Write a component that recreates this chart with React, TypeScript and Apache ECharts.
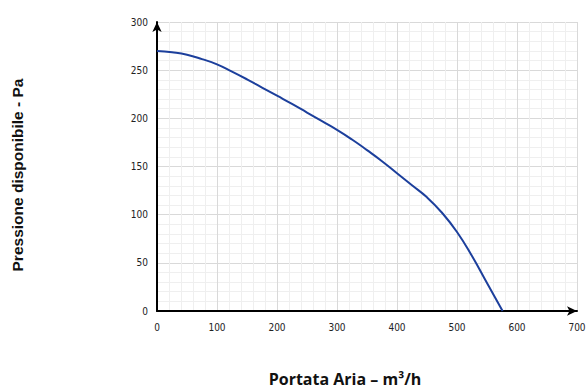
import React, { useEffect, useRef } from "react";
import * as echarts from "echarts";

const flowValues = [0, 25, 50, 75, 100, 125, 150, 175, 200, 225, 250, 275, 300, 325, 350, 375, 400, 425, 450, 475, 500, 525, 550, 576];
const pressureValues = [270, 268.5, 266, 261.5, 256, 248.5, 240.5, 232, 223.5, 215, 206, 197, 188, 178, 167, 155.5, 143, 130.5, 118, 102, 82, 57, 29, 0];

const xTitle = "Portata Aria – m³/h";
const yTitle = "Pressione disponibile - Pa";

export default function App() {
  const ref = useRef<HTMLDivElement>(null);
  useEffect(() => {
    const chart = echarts.init(ref.current!, undefined, { renderer: "svg" });
    const labelStyle = { color: "#222", fontSize: 10, fontFamily: "DejaVu Sans Condensed, DejaVu Sans, sans-serif" };
    const axisLine = { show: true, lineStyle: { color: "#000", width: 2 }, symbol: ["none", "arrow"], symbolSize: [7, 10] };
    chart.setOption({
      animation: false,
      grid: { left: 157, right: 10, top: 22, bottom: 78, outerBoundsMode: "none", containLabel: false },
      xAxis: {
        type: "value",
        min: 0,
        max: 700,
        interval: 100,
        axisLine,
        axisTick: { show: false },
        axisLabel: { ...labelStyle, margin: 11 },
        splitLine: { show: true, lineStyle: { color: "#d9d9d9", width: 1 } },
        minorTick: { show: false, splitNumber: 5 },
        minorSplitLine: { show: true, lineStyle: { color: "#efefef", width: 1 } },
      },
      yAxis: {
        type: "value",
        min: 0,
        max: 300,
        interval: 50,
        axisLine,
        axisTick: { show: false },
        axisLabel: { ...labelStyle, margin: 9 },
        splitLine: { show: true, lineStyle: { color: "#d9d9d9", width: 1 } },
        minorTick: { show: false, splitNumber: 5 },
        minorSplitLine: { show: true, lineStyle: { color: "#efefef", width: 1 } },
      },
      graphic: [
        {
          type: "text",
          x: 17,
          y: 175,
          rotation: Math.PI / 2,
          style: {
            text: yTitle,
            fontSize: 15.5,
            fontWeight: "bold",
            fill: "#111",
            fontFamily: "Liberation Sans, Arial, sans-serif",
            align: "center",
            verticalAlign: "middle",
          },
        },
        {
          type: "text",
          x: 345,
          y: 379,
          style: {
            text: xTitle,
            fontSize: 16,
            fontWeight: "bold",
            fill: "#111",
            fontFamily: "Open Sans, sans-serif",
            align: "center",
            verticalAlign: "middle",
          },
        },
      ],
      series: [
        {
          type: "line",
          data: flowValues.map((x, i) => [x, pressureValues[i]]),
          smooth: true,
          showSymbol: false,
          lineStyle: { color: "#1c3f9c", width: 2 },
          z: 5,
        },
      ],
    });
    return () => chart.dispose();
  }, []);
  return <div ref={ref} style={{ position: "fixed", left: 0, top: 0, width: 587, height: 389, background: "#fff" }} />;
}
